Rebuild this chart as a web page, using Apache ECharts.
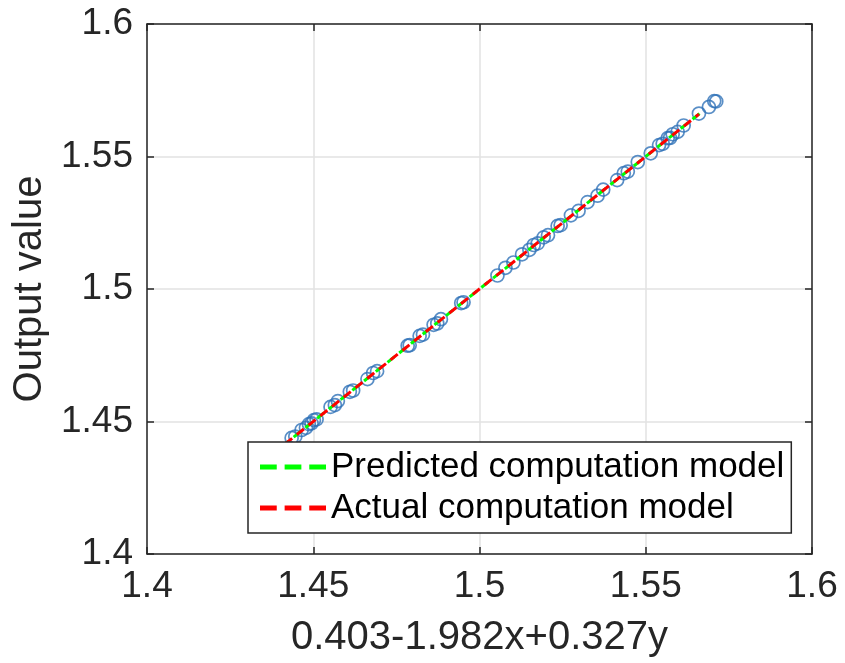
<!DOCTYPE html>
<html>
<head>
<meta charset="utf-8">
<title>Output value vs model</title>
<script src="https://cdn.jsdelivr.net/npm/echarts@6/dist/echarts.min.js"></script>
<style>
  html, body { margin: 0; padding: 0; background: #fff; }
  #main { width: 845px; height: 663px; }
</style>
</head>
<body>
<div id="main"></div>
<script>
// sample points (model value, output value)
var sampleX = [1.4435, 1.4446, 1.4465, 1.4478, 1.4487, 1.4495, 1.4502, 1.4510,
  1.4552, 1.4565, 1.4574, 1.4610, 1.4620, 1.4663, 1.4680, 1.4692,
  1.4784, 1.4790, 1.4820, 1.4830, 1.4862, 1.4873, 1.4884, 1.4945, 1.4952,
  1.5054, 1.5078, 1.5102, 1.5128, 1.5150, 1.5163, 1.5175, 1.5193, 1.5206,
  1.5235, 1.5244, 1.5275, 1.5298, 1.5325, 1.5355, 1.5372, 1.5414, 1.5434,
  1.5446, 1.5476, 1.5515, 1.5540, 1.5551, 1.5566, 1.5573, 1.5581, 1.5596,
  1.5614, 1.5660, 1.5690, 1.5706, 1.5712]
var sampleY = [1.4438, 1.4443, 1.4468, 1.4476, 1.4490, 1.4493, 1.4505, 1.4508,
  1.4555, 1.4562, 1.4577, 1.4612, 1.4617, 1.4660, 1.4683, 1.4690,
  1.4786, 1.4788, 1.4823, 1.4828, 1.4865, 1.4870, 1.4886, 1.4947, 1.4950,
  1.5051, 1.5080, 1.5100, 1.5131, 1.5148, 1.5166, 1.5172, 1.5195, 1.5203,
  1.5238, 1.5241, 1.5278, 1.5295, 1.5328, 1.5352, 1.5375, 1.5411, 1.5437,
  1.5443, 1.5479, 1.5512, 1.5543, 1.5548, 1.5569, 1.5570, 1.5584, 1.5593,
  1.5617, 1.5662, 1.5687, 1.5709, 1.5708]

// fitted lines (start, end)
var predictedX = [1.438, 1.567]
var predictedY = [1.438, 1.567]
var actualX = [1.438, 1.566]
var actualY = [1.438, 1.566]

var xTicks = ['1.4', '1.45', '1.5', '1.55', '1.6']
var yTicks = ['1.4', '1.45', '1.5', '1.55', '1.6']

function pairs(xs, ys) {
  var out = []
  for (var i = 0; i < xs.length; i++) {
    out.push([xs[i], ys[i]])
  }
  return out
}

var fontName = "'Liberation Sans', Arial, sans-serif"
var boxColor = '#262626'
// three dashes for the legend key
var dashIcon = 'path://M0,0h17v5h-17z M25,0h17v5h-17z M50,0h17v5h-17z'

function tickFmt(list) {
  return function (v) {
    var s = String(Math.round(v * 100) / 100)
    return list.indexOf(s) >= 0 ? s : ''
  }
}

var chart = echarts.init(document.getElementById('main'))

var baseAxis = {
  type: 'value',
  min: 1.4,
  max: 1.6,
  interval: 0.05,
  axisLine: { show: true, onZero: false, lineStyle: { color: boxColor, width: 1.5 } },
  axisTick: { show: true, inside: true, length: 7, lineStyle: { color: boxColor, width: 1.5 } },
  splitLine: { show: false }
}

var option = {
  animation: false,
  backgroundColor: '#fff',
  grid: { left: 147, top: 24, right: 33, bottom: 106 },
  xAxis: [
    Object.assign({}, baseAxis, {
      position: 'bottom',
      name: '0.403-1.982x+0.327y',
      nameLocation: 'middle',
      nameGap: 64,
      nameTextStyle: { fontFamily: fontName, fontSize: 40, color: '#262626' },
      axisLabel: { margin: 14, fontFamily: fontName, fontSize: 37, color: '#262626',
        formatter: tickFmt(xTicks) },
      splitLine: { show: true, lineStyle: { color: '#e2e2e2', width: 1.5 } }
    }),
    Object.assign({}, baseAxis, {
      position: 'top',
      axisLabel: { show: false }
    })
  ],
  yAxis: [
    Object.assign({}, baseAxis, {
      position: 'left',
      name: 'Output value',
      nameLocation: 'middle',
      nameGap: 95,
      nameTextStyle: { fontFamily: fontName, fontSize: 40, color: '#262626' },
      axisLabel: { margin: 14, fontFamily: fontName, fontSize: 37, color: '#262626',
        formatter: tickFmt(yTicks) },
      splitLine: { show: true, lineStyle: { color: '#e2e2e2', width: 1.5 } }
    }),
    Object.assign({}, baseAxis, {
      position: 'right',
      axisLabel: { show: false }
    })
  ],
  legend: {
    data: [
      { name: 'Predicted computation model', icon: dashIcon },
      { name: 'Actual computation model', icon: dashIcon }
    ],
    orient: 'vertical',
    left: 248,
    top: 442,
    padding: [7, 7, 7, 12],
    itemGap: 5,
    itemWidth: 66,
    itemHeight: 5,
    backgroundColor: '#fff',
    borderColor: boxColor,
    borderWidth: 1.5,
    borderRadius: 0,
    z: 10,
    textStyle: { fontFamily: fontName, fontSize: 35, color: '#000', lineHeight: 36, padding: [0, 0, 0, 0] }
  },
  series: [
    {
      name: 'samples',
      type: 'scatter',
      data: pairs(sampleX, sampleY),
      symbol: 'circle',
      symbolSize: 13,
      itemStyle: { color: 'rgba(0,0,0,0)', borderColor: '#2f72b8', borderWidth: 1.7 },
      z: 2
    },
    {
      name: 'Predicted computation model',
      type: 'line',
      data: pairs(predictedX, predictedY),
      symbol: 'none',
      showSymbol: false,
      lineStyle: { color: '#00ff00', width: 3, type: [9, 6], dashOffset: 4 },
      itemStyle: { color: '#00ff00' },
      z: 3
    },
    {
      name: 'Actual computation model',
      type: 'line',
      data: pairs(actualX, actualY),
      symbol: 'none',
      showSymbol: false,
      lineStyle: { color: '#ff0000', width: 3, type: [9, 6] },
      itemStyle: { color: '#ff0000' },
      z: 4
    }
  ]
}

chart.setOption(option)
</script>
</body>
</html>
